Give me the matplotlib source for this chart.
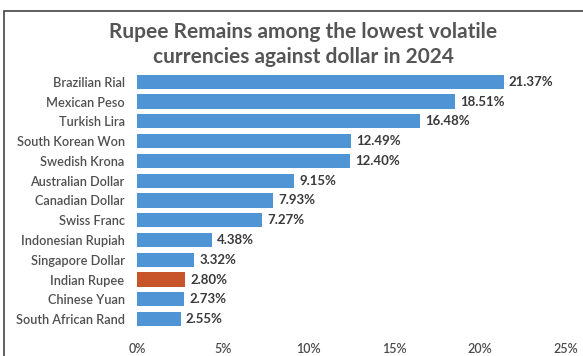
# Rupee volatility bar chart

import matplotlib.pyplot as plt
from matplotlib.patches import Rectangle

currencies = [
    "Brazilian Rial", "Mexican Peso", "Turkish Lira", "South Korean Won",
    "Swedish Krona", "Australian Dollar", "Canadian Dollar", "Swiss Franc",
    "Indonesian Rupiah", "Singapore Dollar", "Indian Rupee", "Chinese Yuan",
    "South African Rand",
]
volatility = [21.37, 18.51, 16.48, 12.49, 12.40, 9.15, 7.93, 7.27, 4.38, 3.32, 2.80, 2.73, 2.55]
x_ticks = [0, 5, 10, 15, 20, 25]
highlight = "Indian Rupee"

plt.rcParams['font.family'] = ['Lato', 'DejaVu Sans']

fig = plt.figure(figsize=(5.83, 3.56), dpi=100)
ax = fig.add_axes([0.235, 0.076, 0.736, 0.722])

colors = ['#C8552A' if c == highlight else '#4F94D4' for c in currencies]
ypos = list(range(len(currencies)))
ax.barh(ypos, volatility, height=0.72, color=colors)
for y, v in zip(ypos, volatility):
    ax.text(v + 0.3, y, f"{v:.2f}%", va='center', ha='left',
            fontsize=9.5, fontweight='bold', color='#3a3a3a')

ax.set_yticks(ypos)
ax.set_yticklabels(currencies, fontsize=9.2, color='#505050', fontweight='semibold')
ax.set_ylim(len(currencies) - 0.5, -0.5)
ax.set_xlim(0, 25)
ax.set_xticks(x_ticks)
ax.set_xticklabels([f"{t}%" for t in x_ticks], fontsize=9, color='#4a4a4a',
                   fontweight='semibold')
ax.tick_params(axis='both', length=0)
ax.tick_params(axis='x', pad=10)
ax.tick_params(axis='y', pad=9)
for s in ax.spines.values():
    s.set_visible(False)

fig.text(0.52, 0.875, "Rupee Remains among the lowest volatile\ncurrencies against dollar in 2024",
         ha='center', va='center', fontsize=15, fontweight='bold',
         color='#555555', linespacing=1.35)

# outer frame (cropped at right and bottom)
fig.patches.append(Rectangle((4 / 583, -0.1), 1.2, 1 - 11 / 356 + 0.1,
                             transform=fig.transFigure, fill=False,
                             edgecolor='#444444', linewidth=1.2))

plt.savefig('out.png', dpi=100)
